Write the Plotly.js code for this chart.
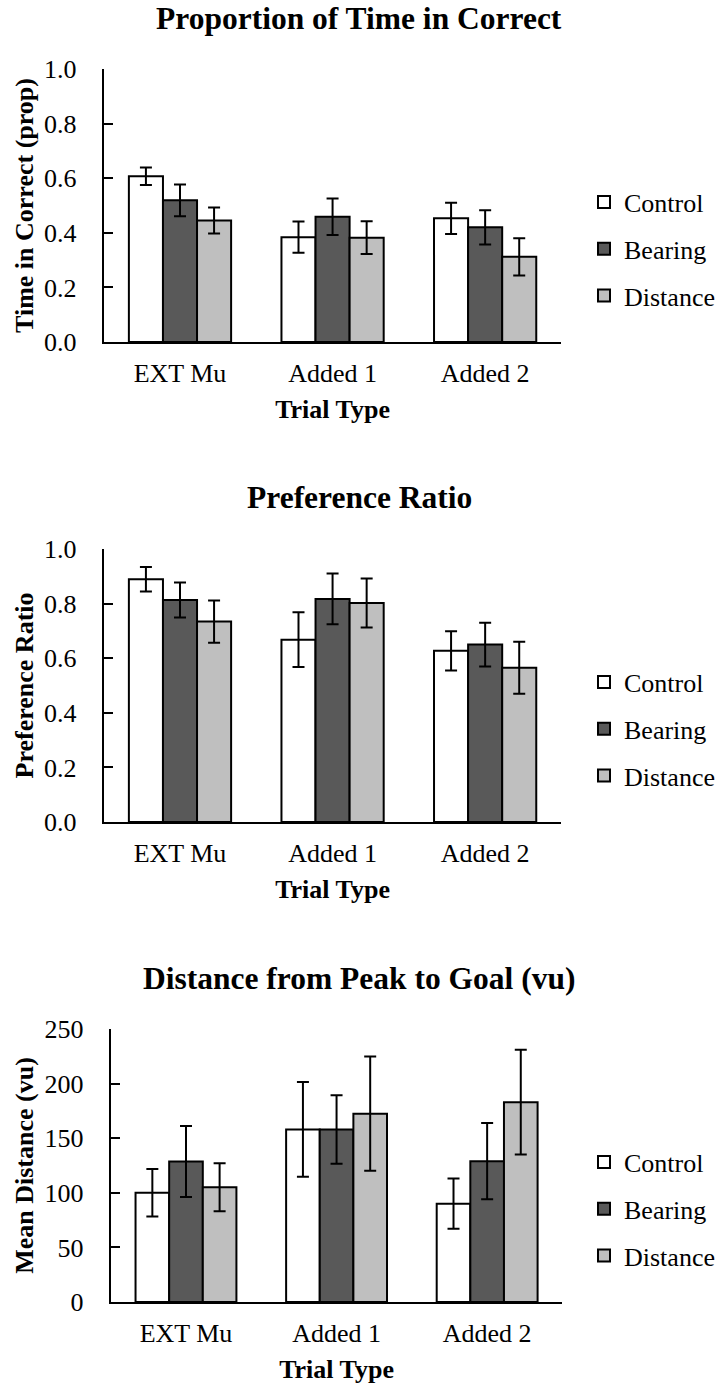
<!DOCTYPE html>
<html>
<head>
<meta charset="utf-8">
<script src="https://cdn.plot.ly/plotly-3.0.1.min.js"></script>
<style>html,body{margin:0;padding:0;background:#fff;}#chart{width:720px;height:1388px;}</style>
</head>
<body>
<div id="chart"></div>
<script>
// Categories and series
const categories = ["EXT Mu", "Added 1", "Added 2"];
const seriesNames = ["Control", "Bearing", "Distance"];
const seriesColors = ["#ffffff", "#595959", "#bfbfbf"];

// Panel 1: Proportion of Time in Correct
const timeControl = [0.607, 0.384, 0.453];
const timeBearing = [0.519, 0.459, 0.420];
const timeDistance = [0.445, 0.382, 0.312];
const timeControlErr = [0.032, 0.057, 0.057];
const timeBearingErr = [0.058, 0.067, 0.063];
const timeDistanceErr = [0.048, 0.060, 0.068];

// Panel 2: Preference Ratio
const prefControl = [0.889, 0.668, 0.627];
const prefBearing = [0.813, 0.817, 0.650];
const prefDistance = [0.734, 0.802, 0.565];
const prefControlErr = [0.045, 0.100, 0.072];
const prefBearingErr = [0.064, 0.093, 0.080];
const prefDistanceErr = [0.077, 0.090, 0.095];

// Panel 3: Distance from Peak to Goal (vu)
const distControl = [100, 158, 90];
const distBearing = [128.7, 158, 129];
const distDistance = [105, 172.5, 183];
const distControlErr = [21.7, 43.4, 23];
const distBearingErr = [32.5, 31.3, 35];
const distDistanceErr = [22, 52.3, 48];

const panelTitles = ["Proportion of Time in Correct", "Preference Ratio", "Distance from Peak to Goal (vu)"];
const yTitles = ["Time in Correct (prop)", "Preference Ratio", "Mean Distance (vu)"];
const xTitle = "Trial Type";

const FONT = "'Liberation Serif', 'Times New Roman', Times, serif";
const H = 1388, W = 720;

const panels = [
  {vals:[timeControl,timeBearing,timeDistance], errs:[timeControlErr,timeBearingErr,timeDistanceErr], range:[0,1], dtick:0.2, fmt:".1f"},
  {vals:[prefControl,prefBearing,prefDistance], errs:[prefControlErr,prefBearingErr,prefDistanceErr], range:[0,1], dtick:0.2, fmt:".1f"},
  {vals:[distControl,distBearing,distDistance], errs:[distControlErr,distBearingErr,distDistanceErr], range:[0,250], dtick:50, fmt:"d"}
];

// pixel layout of each panel
const plotTops = [69, 549, 1029];
const plotBottoms = [342, 822, 1302];
const plotLefts = [104, 104, 111];
const plotRights = [563, 563, 564];
const titleYs = [18, 498, 978];
const legendCenters = [249, 729, 1209];

const data = [];
const layout = {
  width: W, height: H,
  margin: {l:0, r:0, t:0, b:0},
  paper_bgcolor: "#fff", plot_bgcolor: "#fff",
  barmode: "group", bargap: 0.33, bargroupgap: 0,
  font: {family: FONT, color: "#000", size: 26},
  showlegend: true,
  annotations: []
};

panels.forEach((p, i) => {
  const ax = i === 0 ? "" : String(i + 1);
  const legName = i === 0 ? "legend" : "legend" + (i + 1);
  p.vals.forEach((v, s) => {
    data.push({
      type: "bar",
      x: categories, y: v,
      name: seriesNames[s],
      xaxis: "x" + ax, yaxis: "y" + ax,
      legend: legName,
      legendgroup: "g" + i + "_" + s,
      marker: {color: seriesColors[s], line: {color: "#000", width: 2}},
      error_y: {type: "data", array: p.errs[s], visible: true, color: "#000", thickness: 2, width: 6},
      hoverinfo: "skip"
    });
  });
  const dom = [1 - plotBottoms[i] / H, 1 - plotTops[i] / H];
  layout["xaxis" + ax] = {
    domain: [plotLefts[i] / W, plotRights[i] / W], anchor: "y" + ax,
    showline: true, linecolor: "#000", linewidth: 2,
    ticks: "", showgrid: false, zeroline: false, fixedrange: true,
    ticklabelstandoff: 7,
    tickfont: {family: FONT, size: 26, color: "#000"},
    title: {text: "<b>" + xTitle + "</b>", font: {family: FONT, size: 26, color: "#000"}, standoff: 13}
  };
  layout["yaxis" + ax] = {
    domain: dom, anchor: "x" + ax, range: p.range, dtick: p.dtick, tick0: 0,
    tickformat: p.fmt,
    showline: true, linecolor: "#000", linewidth: 2,
    ticks: "inside", ticklen: 9, tickwidth: 2, tickcolor: "#000",
    ticklabelstandoff: 20,
    showgrid: false, zeroline: false, fixedrange: true,
    tickfont: {family: FONT, size: 26, color: "#000"},
    title: {text: "<b>" + yTitles[i] + "</b>", font: {family: FONT, size: 26, color: "#000"}, standoff: 3}
  };
  layout[legName] = {
    x: 586 / W, xanchor: "left",
    y: 1 - legendCenters[i] / H, yanchor: "middle",
    bgcolor: "rgba(0,0,0,0)", borderwidth: 0,
    font: {family: FONT, size: 26, color: "#000"},
    traceorder: "grouped", tracegroupgap: 10,
    itemclick: false, itemdoubleclick: false
  };
  layout.annotations.push({
    text: "<b>" + panelTitles[i] + "</b>",
    xref: "paper", yref: "paper", x: 0.5, xanchor: "center",
    y: 1 - titleYs[i] / H, yanchor: "middle", showarrow: false,
    font: {family: FONT, size: 31.5, color: "#000"}
  });
});

Plotly.newPlot("chart", data, layout, {displayModeBar: false, staticPlot: true});
</script>
</body>
</html>
